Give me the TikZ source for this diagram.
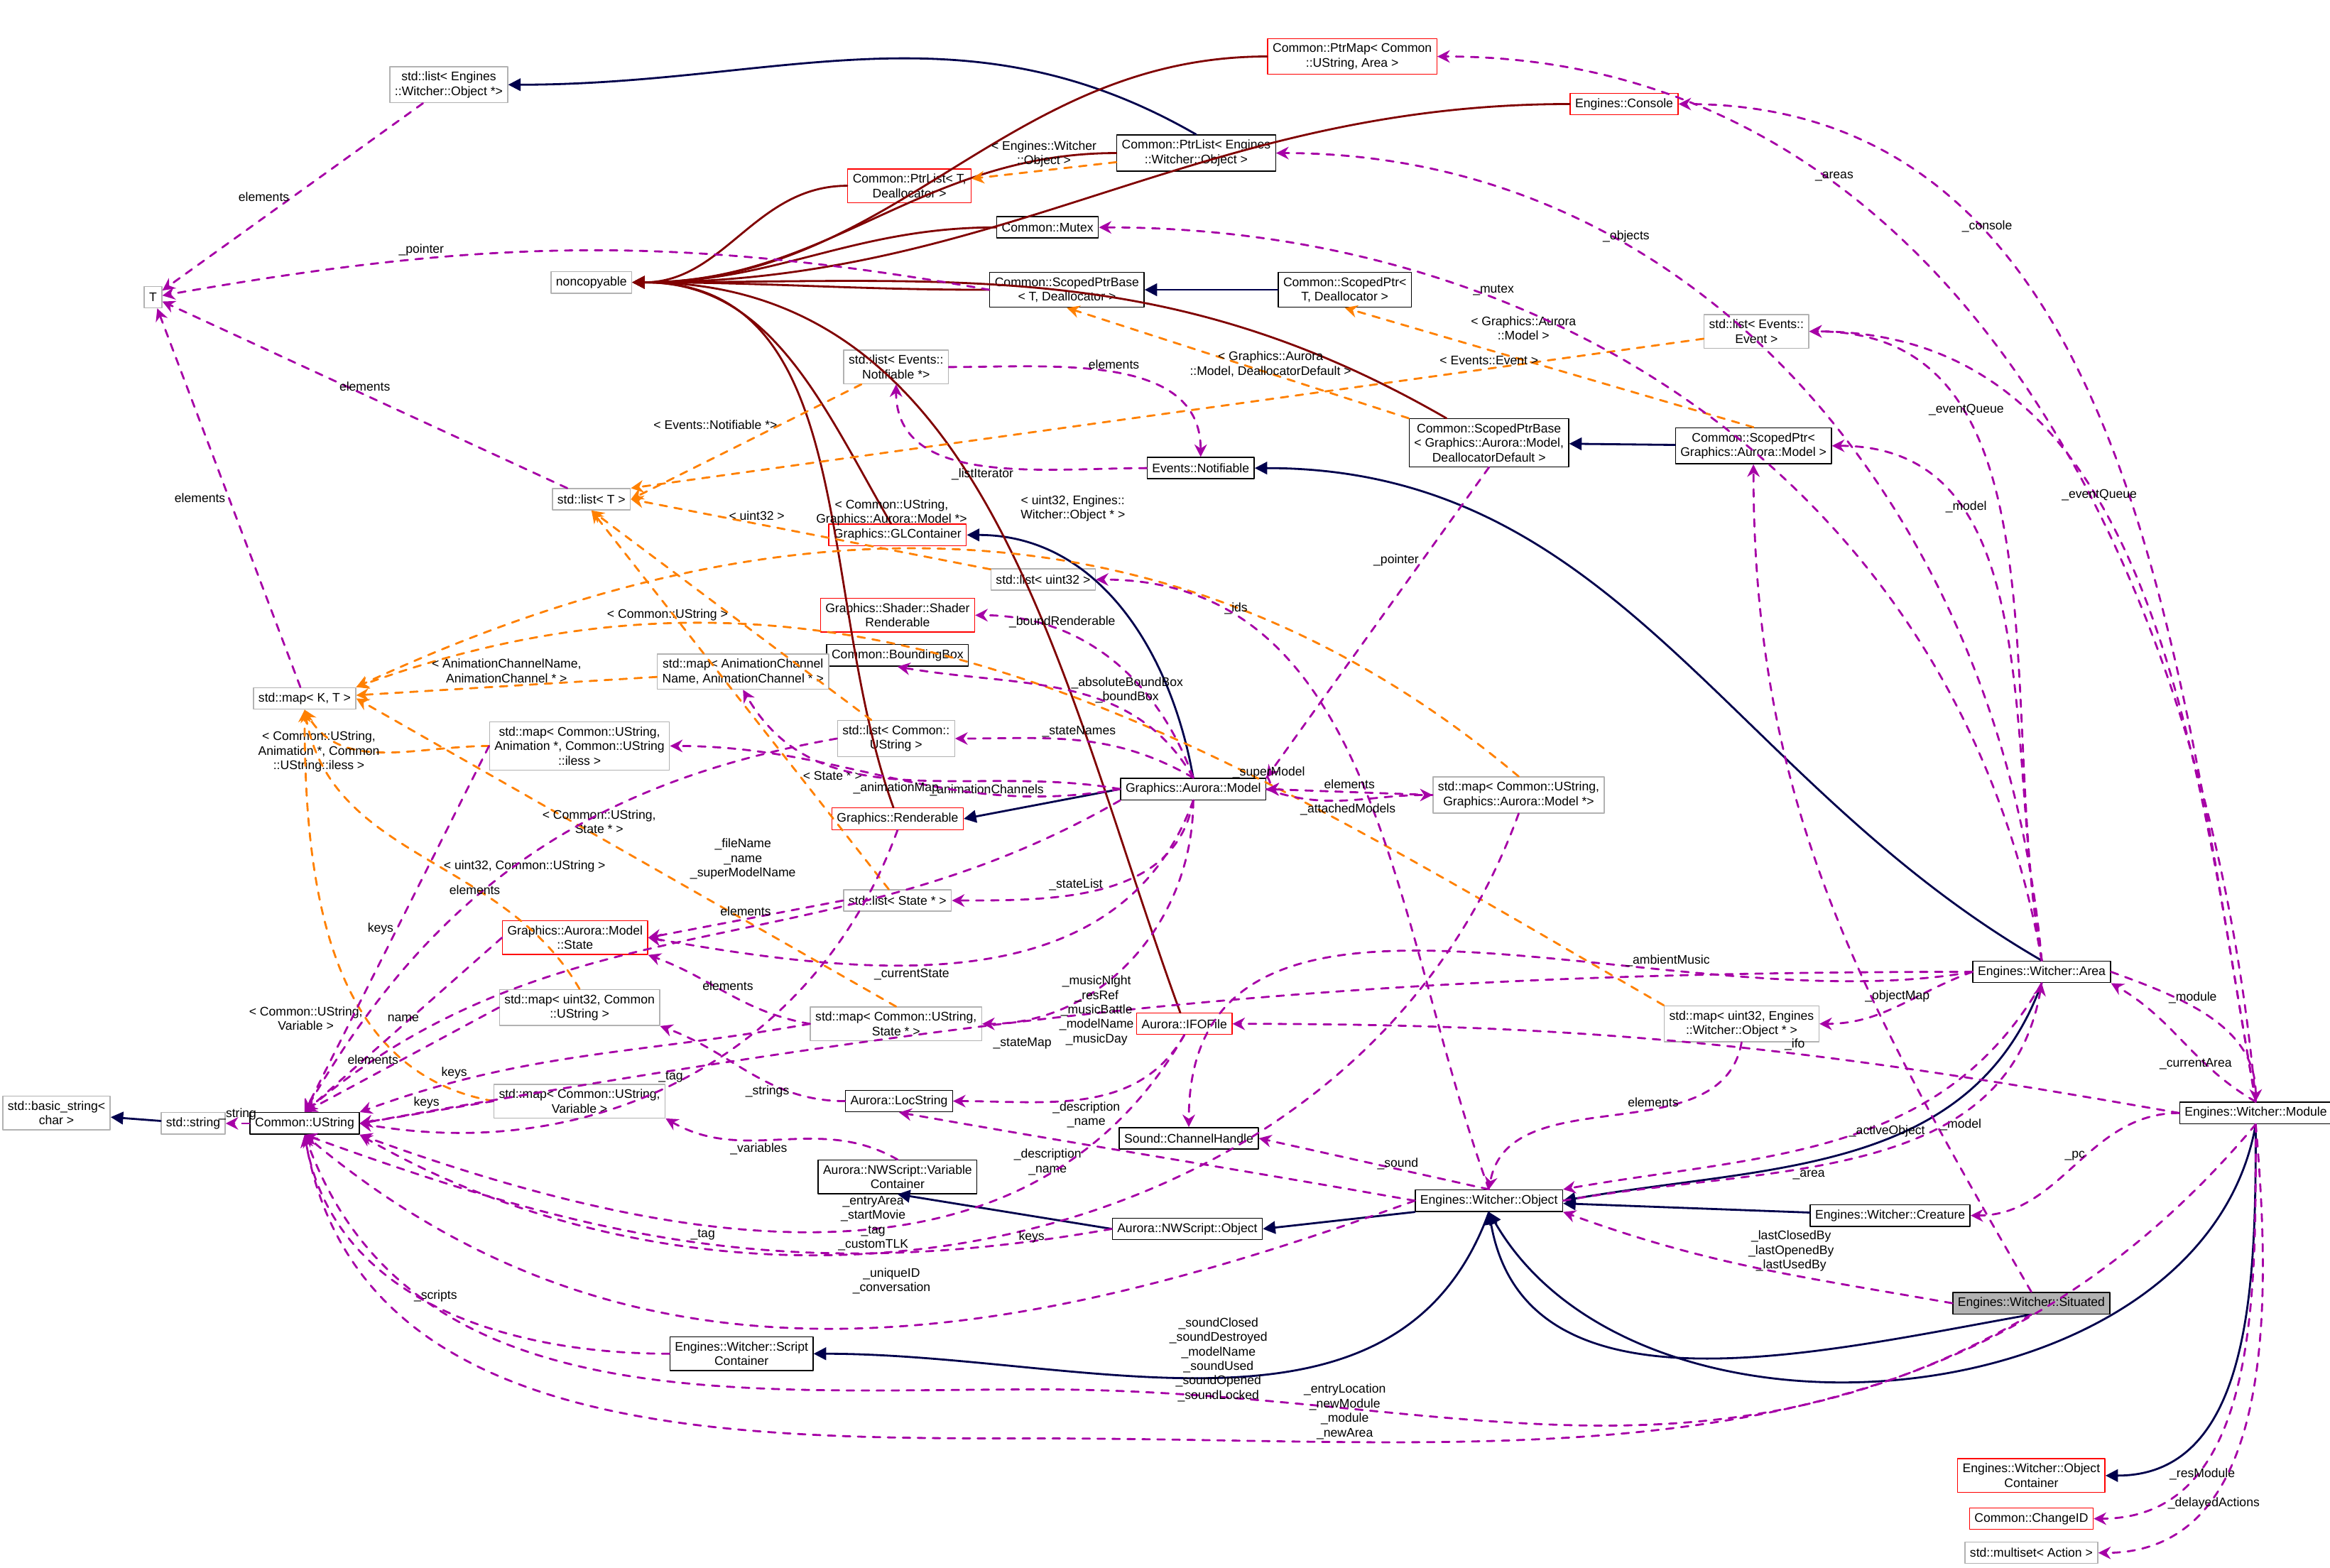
\documentclass[tikz,border=0pt]{standalone}
\usepackage{fontspec}
\setmainfont{Liberation Sans}
\usetikzlibrary{arrows.meta}

\begin{document}
\begin{tikzpicture}[x=0.020925cm, y=-0.020925cm, line cap=round, line join=round]
  % ---- Styles ----
  \tikzset{
    cls/.style={draw=black, fill=white, font=\fontsize{5.0}{5.8}\selectfont, align=center, inner sep=2pt, minimum height=0.3cm},
    ext/.style={cls, draw=gray!60},
    red/.style={cls, draw=red},
    cur/.style={cls, fill=gray!60},
    inh/.style={-{Triangle[length=5pt,width=5pt]}, draw=blue!30!black, thick},
    priv/.style={-{Triangle[length=5pt,width=5pt]}, draw=red!50!black, thick},
    tmpl/.style={-{Stealth[length=5pt,width=5pt]}, draw=orange, dashed, thick},
    use/.style={-{Stealth[length=5pt,width=5pt]}, draw=violet!70!magenta, dashed, thick},
    lbl/.style={font=\fontsize{5.0}{5.8}\selectfont, align=center, inner sep=1pt},
  }
  \useasboundingbox (0,0) rectangle (1568,1055);

  % ---- Nodes ----
  \node[ext] (listobj) at (302,57) {std::list< Engines\\::Witcher::Object *>};
  \node[ext] (T) at (103,200) {T};
  \node[ext] (noncopy) at (398,190) {noncopyable};
  \node[red] (ptrmap) at (910,38) {Common::PtrMap< Common\\::UString, Area >};
  \node[red] (console) at (1093,70) {Engines::Console};
  \node[cls] (ptrlistobj) at (805,103) {Common::PtrList< Engines\\::Witcher::Object >};
  \node[red] (ptrlistT) at (612,125) {Common::PtrList< T,\\Deallocator >};
  \node[cls] (mutex) at (705,153) {Common::Mutex};
  \node[cls] (spbaseT) at (718,195) {Common::ScopedPtrBase\\< T, Deallocator >};
  \node[cls] (spT) at (905,195) {Common::ScopedPtr<\\T, Deallocator >};
  \node[ext] (listevent) at (1182,223) {std::list< Events::\\Event >};
  \node[ext] (listnotif) at (603,247) {std::list< Events::\\Notifiable *>};
  \node[cls] (spbasemodel) at (1002,298) {Common::ScopedPtrBase\\< Graphics::Aurora::Model,\\DeallocatorDefault >};
  \node[cls] (spmodel) at (1180,300) {Common::ScopedPtr<\\Graphics::Aurora::Model >};
  \node[cls] (notif) at (808,315) {Events::Notifiable};
  \node[ext] (listT) at (398,336) {std::list< T >};
  \node[red] (glcont) at (604,360) {Graphics::GLContainer};
  \node[ext] (listuint) at (702,390) {std::list< uint32 >};
  \node[red] (shader) at (604,414) {Graphics::Shader::Shader\\Renderable};
  \node[cls] (bbox) at (604,441) {Common::BoundingBox};
  \node[ext] (mapKT) at (205,470) {std::map< K, T >};
  \node[ext] (mapanimch) at (500,452) {std::map< AnimationChannel\\Name, AnimationChannel * >};
  \node[ext] (listustr) at (603,497) {std::list< Common::\\UString >};
  \node[ext] (mapanim) at (390,502) {std::map< Common::UString,\\Animation *, Common::UString\\::iless >};
  \node[cls] (model) at (803,531) {Graphics::Aurora::Model};
  \node[ext] (mapmodel) at (1022,535) {std::map< Common::UString,\\Graphics::Aurora::Model *>};
  \node[red] (rend) at (604,551) {Graphics::Renderable};
  \node[ext] (liststate) at (604,606) {std::list< State * >};
  \node[red] (state) at (387,631) {Graphics::Aurora::Model\\::State};
  \node[cls] (area) at (1374,654) {Engines::Witcher::Area};
  \node[ext] (mapuint) at (390,678) {std::map< uint32, Common\\::UString >};
  \node[ext] (mapstate) at (603,689) {std::map< Common::UString,\\State * >};
  \node[ext] (mapobj) at (1172,689) {std::map< uint32, Engines\\::Witcher::Object * >};
  \node[red] (ifo) at (797,689) {Aurora::IFOFile};
  \node[ext] (bstring) at (38,749) {std::basic\_string<\\char >};
  \node[ext] (string) at (130,756) {std::string};
  \node[cls] (ustr) at (205,756) {Common::UString};
  \node[ext] (mapvar) at (390,741) {std::map< Common::UString,\\Variable >};
  \node[cls] (locstr) at (605,741) {Aurora::LocString};
  \node[cls] (module) at (1518,749) {Engines::Witcher::Module};
  \node[cls] (channel) at (800,766) {Sound::ChannelHandle};
  \node[cls] (varcont) at (604,792) {Aurora::NWScript::Variable\\Container};
  \node[cls] (object) at (1002,808) {Engines::Witcher::Object};
  \node[cls] (nwobj) at (799,827) {Aurora::NWScript::Object};
  \node[cls] (creature) at (1272,818) {Engines::Witcher::Creature};
  \node[cur] (situated) at (1367,877) {Engines::Witcher::Situated};
  \node[cls] (scriptcont) at (499,911) {Engines::Witcher::Script\\Container};
  \node[red] (objcont) at (1367,993) {Engines::Witcher::Object\\Container};
  \node[red] (changeid) at (1367,1022) {Common::ChangeID};
  \node[ext] (multiset) at (1367,1045) {std::multiset< Action >};
  \coordinate (low1) at (700,935);
  \coordinate (low2) at (700,968);

  % ---- Inheritance ----
  \draw[inh] (ptrlistobj.north) to[out=150,in=0] (listobj.east);
  \draw[inh] (spT) -- (spbaseT);
  \draw[inh] (spmodel) -- (spbasemodel);
  \draw[inh] (area.north) to[out=150,in=0] (notif.east);
  \draw[inh] (model.north) to[out=100,in=0] (glcont.east);
  \draw[inh] (model.west) -- (rend.east);
  \draw[inh] (string) -- (bstring);
  \draw[inh] (area.south) to[out=-110,in=10] (object.east);
  \draw[inh] (module.south) to[out=-100,in=-60] (object.south);
  \draw[inh] (creature) -- (object);
  \draw[inh] (situated.south) to[out=-170,in=-80] (object.south);
  \draw[inh] (object.south west) -- (nwobj.east);
  \draw[inh] (object.south) to[out=-110,in=0] (scriptcont.east);
  \draw[inh] (nwobj.west) -- (varcont.south);
  \draw[inh] (module.south) to[out=-90,in=0] (objcont.east);

  % ---- Private (noncopyable) ----
  \foreach \src/\o in {ptrmap/180, console/180, ptrlistobj/180, ptrlistT/180, mutex/180,
                       spbaseT/180, spbasemodel/150, glcont/120, rend/110, ifo/110}
    \draw[priv] (\src) to[out=\o,in=0] (noncopy.east);

  % ---- Templates ----
  \draw[tmpl] (ptrlistobj) -- node[lbl, above] {< Engines::Witcher\\::Object >} (ptrlistT);
  \draw[tmpl] (spmodel.north) -- node[lbl, above right, pos=0.7] {< Graphics::Aurora\\::Model >} (spT.south);
  \draw[tmpl] (spbasemodel.north west) -- (spbaseT.south) node[lbl] at (855,245) {< Graphics::Aurora\\::Model, DeallocatorDefault >};
  \draw[tmpl] (listevent) -- node[lbl, above, pos=0.2] {< Events::Event >} (listT.north east);
  \draw[tmpl] (listnotif) -- node[lbl, pos=0.35, left] {< Events::Notifiable *>} (listT.east);
  \draw[tmpl] (listuint) -- node[lbl, pos=0.65, above] {< uint32 >} (listT.east);
  \draw[tmpl] (listustr) -- node[lbl, pos=0.5, left] {< Common::UString >} (listT.south);
  \draw[tmpl] (liststate) -- node[lbl, pos=0.3, right] {< State * >} (listT.south);
  \draw[tmpl] (mapobj.north west) to[out=150,in=20] (mapKT.north east) node[lbl] at (722,342) {< uint32, Engines::\\Witcher::Object * >};
  \draw[tmpl] (mapmodel.north) to[out=140,in=25] (mapKT.north east) node[lbl] at (600,345) {< Common::UString,\\Graphics::Aurora::Model *>};
  \draw[tmpl] (mapanimch) -- node[lbl, above] {< AnimationChannelName,\\AnimationChannel * >} (mapKT);
  \draw[tmpl] (mapstate.north) -- node[lbl, pos=0.55, above] {< Common::UString,\\State * >} (mapKT.east);
  \draw[tmpl] (mapanim.west) to[out=180,in=-60] node[lbl, pos=0.5, left] {< Common::UString,\\Animation *, Common\\::UString::iless >} (mapKT.south);
  \draw[tmpl] (mapuint.north) to[out=120,in=-80] node[lbl, pos=0.45, right] {< uint32, Common::UString >} (mapKT.south);
  \draw[tmpl] (mapvar.west) to[out=170,in=-90] node[lbl, pos=0.35, left] {< Common::UString,\\Variable >} (mapKT.south);

  % ---- Usage ----
  \draw[use] (listobj) -- node[lbl, left] {elements} (T);
  \draw[use] (spbaseT.west) to[out=170,in=10] node[lbl, above, pos=0.7] {\_pointer} (T);
  \draw[use] (listT) -- node[lbl, above] {elements} (T);
  \draw[use] (mapKT) -- node[lbl, left] {elements} (T);
  \draw[use] (listnotif.east) to[out=0,in=90] node[lbl, above] {elements} (notif.north);
  \draw[use] (notif.west) to[out=180,in=-90] node[lbl, below] {\_listIterator} (listnotif.south);
  \draw[use] (spbasemodel.south) -- node[lbl, left, pos=0.3] {\_pointer} (model.north east);
  \draw[use] (module.north) to[out=95,in=0] node[lbl, above, pos=0.7] {\_areas} (ptrmap.east);
  \draw[use] (module.north) to[out=100,in=0] node[lbl, above, pos=0.7] {\_console} (console.east);
  \draw[use] (area.north) to[out=95,in=0] node[lbl, above, pos=0.7] {\_objects} (ptrlistobj.east);
  \draw[use] (area.north) to[out=100,in=0] node[lbl, above, pos=0.7] {\_mutex} (mutex.east);
  \draw[use] (area.north) to[out=100,in=0] node[lbl, above, pos=0.7] {\_eventQueue} (listevent.east);
  \draw[use] (module.north) to[out=100,in=0] node[lbl, above, pos=0.6] {\_eventQueue} (listevent.east);
  \draw[use] (area.north) to[out=100,in=0] node[lbl, above, pos=0.7] {\_model} (spmodel.east);
  \draw[use] (situated.north) to[out=120,in=-90] node[lbl, right, pos=0.2] {\_model} (spmodel.south);
  \draw[use] (object.north) to[out=110,in=0] node[lbl, above, pos=0.8] {\_ids} (listuint.east);
  \draw[use] (model.north) to[out=110,in=0] node[lbl, above, pos=0.7] {\_boundRenderable} (shader.east);
  \draw[use] (model.north) to[out=120,in=-10] node[lbl, right, pos=0.5] {\_absoluteBoundBox\\\_boundBox} (bbox.south);
  \draw[use] (model.north) to[out=150,in=0] node[lbl, above, pos=0.5] {\_stateNames} (listustr.east);
  \draw[use] (model.west) to[out=170,in=-60] node[lbl, below, pos=0.3] {\_animationChannels} (mapanimch.south);
  \draw[use] (model.north east) to[out=60,in=0] node[lbl, above] {\_superModel} (model.east);
  \draw[use] (mapmodel.west) -- node[lbl, above] {elements} (model.east);
  \draw[use] (model.east) to[out=-20,in=180] node[lbl, below] {\_attachedModels} (mapmodel.west);
  \draw[use] (model.west) to[out=-170,in=0] node[lbl, below, pos=0.5] {\_animationMap} (mapanim.east);
  \draw[use] (model.south) to[out=-100,in=0] node[lbl, above, pos=0.6] {\_stateList} (liststate.east);
  \draw[use] (model.south) to[out=-110,in=-10] node[lbl, below, pos=0.6] {\_currentState} (state.east);
  \draw[use] (model.south) to[out=-90,in=0] (mapstate.east) node[lbl] at (688,702) {\_stateMap};
  \draw[use] (model.south west) to[out=-150,in=40] (ustr.north) node[lbl] at (500,578) {\_fileName\\\_name\\\_superModelName};
  \draw[use] (liststate.west) -- node[lbl, above] {elements} (state.east);
  \draw[use] (mapstate.west) to[out=170,in=-20] node[lbl, above, pos=0.5] {elements} (state.south east);
  \draw[use] (state.west) -- node[lbl, above] {name} (ustr.north);
  \draw[use] (listustr.west) to[out=190,in=60] node[lbl, above, pos=0.6] {elements} (ustr.north);
  \draw[use] (mapanim.west) -- node[lbl, left] {keys} (ustr.north);
  \draw[use] (mapuint.west) -- node[lbl, left] {elements} (ustr.north);
  \draw[use] (mapstate.west) to[out=190,in=20] node[lbl, above, pos=0.8] {keys} (ustr.north east);
  \draw[use] (mapvar.west) -- node[lbl, above] {keys} (ustr.east);
  \draw[use] (ustr) -- node[lbl, above] {\_string} (string);
  \draw[use] (varcont.north) to[out=150,in=-30] node[lbl, below, pos=0.6] {\_variables} (mapvar.south east);
  \draw[use] (locstr.west) to[out=180,in=-20] node[lbl, below, pos=0.4] {\_strings} (mapuint.south east);
  \draw[use] (ifo.south) to[out=-120,in=0] node[lbl, below, pos=0.5] {\_description\\\_name} (locstr.east);
  \draw[use] (area.west) to[out=180,in=10] (ustr.east) node[lbl] at (738,680) {\_musicNight\\\_resRef\\\_musicBattle\\\_modelName\\\_musicDay};
  \draw[use] (area.west) to[out=190,in=90] node[lbl, pos=0.3, above] {\_ambientMusic} (channel.north);
  \draw[use] (object.north) -- node[lbl, right] {\_sound} (channel.east);
  \draw[use] (area.west) to[out=200,in=0] node[lbl, above] {\_objectMap} (mapobj.east);
  \draw[use] (mapobj.south) to[out=-100,in=80] node[lbl, left, pos=0.3] {elements} (object.north);
  \draw[use] (module.north) to[out=150,in=-30] node[lbl, below, pos=0.4] {\_currentArea} (area.south east);
  \draw[use] (area.east) to[out=-20,in=90] node[lbl, above, pos=0.4] {\_module} (module.north);
  \draw[use] (module.west) to[out=170,in=0] node[lbl, above, pos=0.4] {\_ifo} (ifo.east);
  \draw[use] (module.west) to[out=180,in=0] node[lbl, above, pos=0.5] {\_pc} (creature.east);
  \draw[use] (area.south) to[out=-120,in=10] node[lbl, below, pos=0.4] {\_activeObject} (object.north east);
  \draw[use] (object.east) to[out=10,in=-100] node[lbl, below, pos=0.4] {\_area} (area.south);
  \draw[use] (object.west) to[out=170,in=-10] (locstr.south) node[lbl] at (705,782) {\_description\\\_name};
  \draw[use] (situated.west) to[out=170,in=-20] node[lbl, above, pos=0.4] {\_lastClosedBy\\\_lastOpenedBy\\\_lastUsedBy} (object.south east);
  \draw[use] (nwobj.west) to[out=190,in=-20] node[lbl, above, pos=0.5] {\_tag} (ustr.south);
  \draw[use] (object.west) to[out=-160,in=-40] (ustr.south) node[lbl] at (600,862) {\_uniqueID\\\_conversation};
  \draw[use] (scriptcont.west) to[out=180,in=-80] node[lbl, above, pos=0.5] {\_scripts} (ustr.south);
  \draw[use] (situated.south) to[out=-150,in=0] (low1) to[out=180,in=-70] (ustr.south) node[lbl] at (820,915) {\_soundClosed\\\_soundDestroyed\\\_modelName\\\_soundUsed\\\_soundOpened\\\_soundLocked};
  \draw[use] (module.south) to[out=-130,in=0] (low2) to[out=180,in=-80] (ustr.south) node[lbl] at (905,950) {\_entryLocation\\\_newModule\\\_module\\\_newArea};
  \draw[use] (ifo.south) to[out=-120,in=-20] node[lbl, left, pos=0.4] {\_entryArea\\\_startMovie\\\_tag\\\_customTLK} (ustr.south east);
  \draw[use] (mapmodel.south) to[out=-110,in=-30] node[lbl, below, pos=0.5] {keys} (ustr.south east);
  \draw[use] (rend.south) to[out=-110,in=-10] node[lbl, left, pos=0.5] {\_tag} (ustr.east);
  \draw[use] (module.south) to[out=-90,in=0] node[lbl, below, pos=0.7] {\_resModule} (changeid.east);
  \draw[use] (module.south) to[out=-85,in=0] node[lbl, below, pos=0.7] {\_delayedActions} (multiset.east);
\end{tikzpicture}
\end{document}
